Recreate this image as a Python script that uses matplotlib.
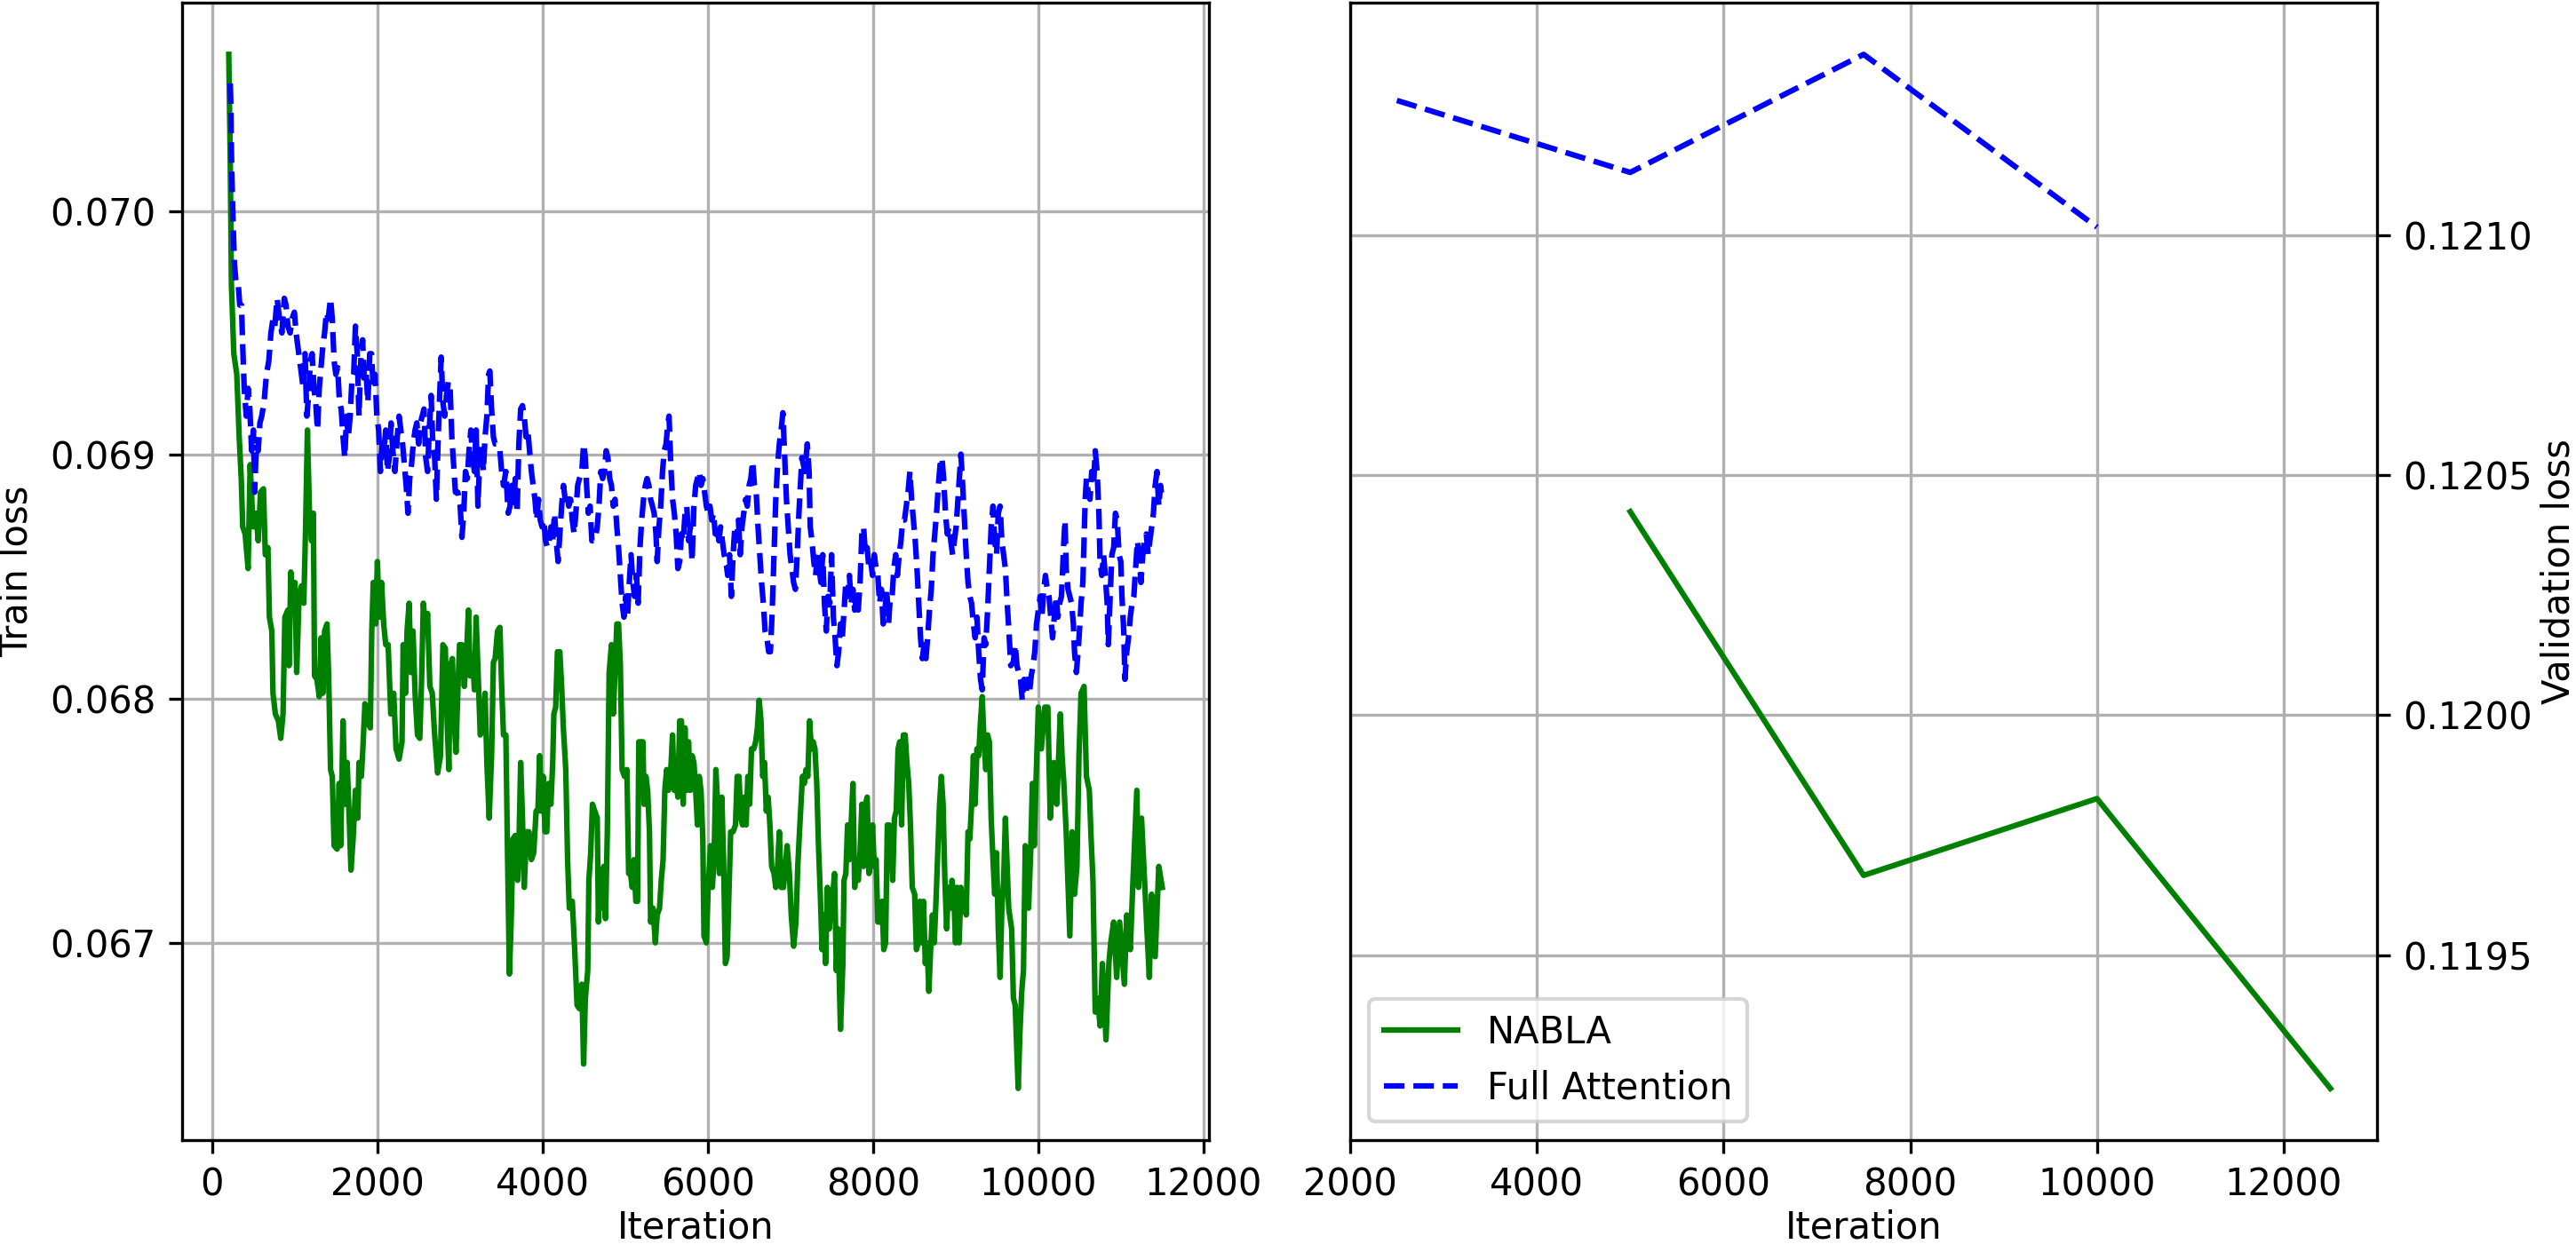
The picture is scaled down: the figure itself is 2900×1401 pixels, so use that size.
import matplotlib
matplotlib.use("Agg")
import matplotlib.pyplot as plt
from matplotlib.ticker import MultipleLocator

# train loss, NABLA
nabla_iter = [
    201, 219, 233, 262, 298, 327, 352, 370, 399, 435, 460, 496, 531, 557, 585, 621, 643, 675, 693, 722,
    736, 765, 801, 830, 858, 880, 916, 930, 952, 980, 1002, 1023, 1052, 1081, 1109, 1131, 1153, 1178, 1203, 1225,
    1239, 1268, 1296, 1318, 1339, 1361, 1390, 1411, 1433, 1454, 1476, 1512, 1537, 1555, 1584, 1609, 1634, 1656, 1680, 1706,
    1734, 1763, 1777, 1806, 1824, 1849, 1878, 1914, 1932, 1950, 1979, 2000, 2022, 2050, 2076, 2101, 2130,
    2162, 2197, 2226, 2262, 2298, 2312, 2341, 2359, 2384, 2406, 2431, 2456, 2485, 2513, 2535, 2556, 2585, 2607, 2635, 2664,
    2693, 2729, 2764, 2793, 2822, 2844, 2865, 2880, 2908, 2930, 2951, 2973, 2994, 3023, 3052, 3080, 3102, 3123, 3152, 3174,
    3195, 3224, 3245, 3274, 3303, 3325, 3353, 3382, 3404, 3425, 3454, 3483, 3504, 3526, 3555, 3576, 3598, 3619, 3641, 3669,
    3698, 3713, 3734, 3756, 3777, 3806, 3835, 3864, 3892, 3921, 3943, 3964, 3986, 4007, 4029, 4050, 4072, 4100, 4122, 4136,
    4158, 4179, 4208, 4230, 4251, 4280, 4302, 4323, 4359, 4388, 4417, 4445, 4474, 4496, 4517, 4546, 4560, 4582, 4603,
    4632, 4661, 4675, 4697, 4718, 4740, 4761, 4783, 4805, 4833, 4855, 4876, 4898, 4919, 4941, 4962, 4991, 5020, 5041, 5063,
    5085, 5106, 5128, 5149, 5164, 5192, 5214, 5228, 5250, 5271, 5293, 5307, 5336, 5364, 5386, 5415, 5436, 5458, 5479, 5501,
    5522, 5551, 5572, 5594, 5616, 5637, 5659, 5680, 5701, 5723, 5745, 5766, 5788, 5809, 5831, 5852, 5874, 5895, 5917, 5939,
    5953, 5982, 6004, 6032, 6054, 6075, 6097, 6118, 6140, 6169, 6190, 6212, 6233, 6255, 6276, 6305, 6334, 6355, 6377, 6398,
    6420, 6441, 6463, 6484, 6506, 6528, 6556, 6578, 6600, 6621, 6643, 6664, 6686, 6707, 6729, 6751, 6772, 6801, 6822, 6844,
    6865, 6887, 6915, 6937, 6959, 6987, 7009, 7038, 7066, 7088, 7109,
    7145, 7167, 7188, 7210, 7231, 7253, 7275, 7296, 7318, 7339, 7361, 7382, 7404, 7425, 7447, 7469, 7490, 7512, 7533, 7555,
    7576, 7605, 7634, 7648, 7670, 7691, 7713, 7734, 7756, 7777, 7799, 7820, 7842, 7864, 7885, 7907, 7928, 7950, 7971, 7993,
    8014, 8036, 8057, 8086, 8108, 8129, 8151, 8172, 8194, 8215, 8237, 8258, 8280, 8302, 8323, 8345, 8366, 8388, 8409, 8431,
    8452, 8474, 8503, 8524, 8546, 8567, 8589, 8610, 8632, 8653, 8675, 8696, 8718, 8740, 8761, 8783, 8804, 8826, 8847, 8869,
    8890, 8912, 8934, 8955, 8977, 8998, 9020, 9041, 9063, 9084, 9106, 9127, 9149, 9171, 9192, 9214, 9235, 9257, 9278, 9300,
    9321, 9343, 9364, 9386, 9407, 9429, 9451, 9472, 9494, 9515, 9537, 9558, 9580, 9601,
    9641, 9677, 9698, 9720, 9756, 9777, 9799, 9820, 9842, 9882, 9907, 9928, 9950, 9971, 10000, 10036, 10079, 10115, 10144, 10187,
    10223, 10266, 10287, 10309, 10337, 10381, 10409, 10438, 10467, 10492, 10517, 10553, 10582, 10617, 10639, 10661, 10689, 10718, 10747, 10775,
    10819, 10854, 10876, 10912, 10948, 10984, 11041, 11070, 11113, 11142, 11192, 11213, 11249, 11285, 11314, 11343, 11371, 11414, 11458, 11500,
]
nabla_train = [
    0.070642, 0.070210, 0.069699, 0.069415, 0.069330, 0.069074, 0.068903, 0.068705, 0.068676, 0.068534,
    0.068960, 0.068705, 0.068761, 0.068648, 0.068847, 0.068861, 0.068591, 0.068620, 0.068335, 0.068278,
    0.068023, 0.067938, 0.067910, 0.067838, 0.067938, 0.068335, 0.068364, 0.068136, 0.068520, 0.068364,
    0.068477, 0.068108, 0.068420, 0.068463, 0.068392, 0.068705, 0.069102, 0.068761, 0.068648, 0.068761,
    0.068094, 0.068080, 0.068009, 0.068250, 0.068023, 0.068278, 0.068307, 0.068080, 0.067710, 0.067682,
    0.067398, 0.067384, 0.067653, 0.067398, 0.067910, 0.067568, 0.067739, 0.067540, 0.067298, 0.067426,
    0.067625, 0.067511, 0.067739, 0.067682, 0.067795, 0.067980, 0.067910, 0.067881, 0.068278, 0.068477,
    0.068307, 0.068563, 0.068335, 0.068477, 0.068307, 0.068222, 0.068222,
    0.067938, 0.068023, 0.067795, 0.067753, 0.067824, 0.068222, 0.068023, 0.068278, 0.068392, 0.068108,
    0.068278, 0.068023, 0.067852, 0.067838, 0.068080, 0.068392, 0.068278, 0.068350, 0.068051, 0.068023,
    0.067852, 0.067696, 0.067767, 0.068222, 0.068207, 0.067910, 0.067710, 0.068136, 0.068165, 0.067910,
    0.067781, 0.068023, 0.068222, 0.068222, 0.068051, 0.068193, 0.068364, 0.068094, 0.068179, 0.068037,
    0.068335, 0.068051, 0.067852, 0.067881, 0.068023, 0.067739, 0.067511, 0.067767, 0.068150, 0.068165,
    0.068278, 0.068293, 0.068051, 0.067852, 0.067852, 0.067341, 0.066872, 0.067085, 0.067426, 0.067440,
    0.067256, 0.067398, 0.067739, 0.067511, 0.067227, 0.067455, 0.067455, 0.067341, 0.067369, 0.067540,
    0.067540, 0.067767, 0.067540, 0.067682, 0.067455, 0.067455, 0.067653, 0.067568, 0.067739, 0.067938,
    0.067966, 0.068193, 0.068193, 0.068051, 0.067881, 0.067710, 0.067341, 0.067142, 0.067170, 0.066972,
    0.066744, 0.066730, 0.066830, 0.066503, 0.066773, 0.066886, 0.067256, 0.067369, 0.067568,
    0.067540, 0.067511, 0.067085, 0.067284, 0.067142, 0.067313, 0.067099, 0.067455, 0.068108, 0.068222,
    0.067938, 0.068108, 0.068307, 0.068307, 0.068136, 0.067710, 0.067682, 0.067710, 0.067284, 0.067284,
    0.067227, 0.067341, 0.067170, 0.067170, 0.067824, 0.067824, 0.067824, 0.067568, 0.067682, 0.067625,
    0.067455, 0.067085, 0.067142, 0.067000, 0.067114, 0.067142, 0.067256, 0.067341, 0.067625, 0.067710,
    0.067625, 0.067710, 0.067852, 0.067625, 0.067653, 0.067597, 0.067910, 0.067910, 0.067568, 0.067881,
    0.067625, 0.067824, 0.067625, 0.067767, 0.067739, 0.067625, 0.067483, 0.067682, 0.067625, 0.067426,
    0.067028, 0.067000, 0.067227, 0.067398, 0.067227, 0.067341, 0.067710, 0.067568, 0.067284, 0.067597,
    0.067341, 0.066915, 0.066943, 0.067199, 0.067455, 0.067455, 0.067483, 0.067682, 0.067682, 0.067511,
    0.067483, 0.067597, 0.067483, 0.067682, 0.067568, 0.067795, 0.067795, 0.067824, 0.067881, 0.067994,
    0.067910, 0.067682, 0.067739, 0.067540, 0.067597, 0.067483, 0.067313, 0.067284, 0.067227, 0.067313,
    0.067455, 0.067227, 0.067227, 0.067313, 0.067398, 0.067284, 0.067114, 0.066986, 0.067085, 0.067313,
    0.067455,
    0.067682, 0.067653, 0.067710, 0.067682, 0.067910, 0.067795, 0.067824, 0.067795, 0.067653, 0.067398,
    0.067199, 0.066972, 0.067114, 0.066915, 0.067227, 0.067057, 0.067142, 0.067199, 0.067284, 0.066886,
    0.067057, 0.066645, 0.066915, 0.067256, 0.067284, 0.067483, 0.067341, 0.067483, 0.067653, 0.067227,
    0.067341, 0.067256, 0.067369, 0.067568, 0.067313, 0.067568, 0.067597, 0.067284, 0.067341, 0.067483,
    0.067313, 0.067341, 0.067085, 0.067085, 0.067170, 0.066972, 0.067000, 0.067483, 0.067483, 0.067426,
    0.067256, 0.067511, 0.067540, 0.067795, 0.067824, 0.067483, 0.067852, 0.067852, 0.067739, 0.067653,
    0.067483, 0.067227, 0.067199, 0.066972, 0.067000, 0.067170, 0.067000, 0.067170, 0.066915, 0.067000,
    0.066801, 0.066972, 0.067114, 0.067000, 0.067170, 0.067369, 0.067568, 0.067682, 0.067568, 0.067256,
    0.067057, 0.067227, 0.067142, 0.067256, 0.067199, 0.067000, 0.067227, 0.067000, 0.067227, 0.067142,
    0.067170, 0.067114, 0.067455, 0.067426, 0.067568, 0.067767, 0.067568, 0.067795, 0.067767, 0.067910,
    0.068009, 0.067824, 0.067710, 0.067852, 0.067824, 0.067511, 0.067341, 0.067199, 0.067369, 0.067057,
    0.066858, 0.067142, 0.067256, 0.067511,
    0.067142, 0.067057, 0.066773, 0.066744, 0.066403, 0.066631, 0.066801, 0.066886, 0.067398, 0.067142,
    0.067369, 0.067653, 0.067398, 0.067653, 0.067966, 0.067795, 0.067966, 0.067966, 0.067511, 0.067739,
    0.067568, 0.067938, 0.067767, 0.067653, 0.067455, 0.067028, 0.067455, 0.067199, 0.067313, 0.067767,
    0.068023, 0.068051, 0.067682, 0.067625, 0.067426, 0.067256, 0.066716, 0.066773, 0.066659, 0.066915,
    0.066602, 0.066915, 0.067000, 0.067085, 0.066858, 0.067085, 0.066830, 0.067114, 0.066972, 0.067227,
    0.067625, 0.067227, 0.067511, 0.067256, 0.067057, 0.066858, 0.067199, 0.066943, 0.067313, 0.067227,
]

# train loss, Full Attention
full_iter = [
    219, 226, 233, 248, 269, 291, 316, 334, 355, 370, 388, 413, 435, 456, 478, 499, 514, 535, 557, 578,
    600, 628, 657, 686, 711, 736, 758, 786, 815, 844, 873, 894, 916, 944, 966, 995, 1016, 1038, 1059, 1081,
    1102, 1124, 1146, 1167, 1189, 1210, 1232, 1253, 1275, 1296, 1318, 1339, 1361, 1383, 1404, 1433, 1454, 1476, 1497, 1519,
    1541, 1562, 1584, 1605, 1627, 1648, 1670, 1691, 1713, 1734, 1756, 1777, 1799, 1821, 1842, 1864, 1885, 1907, 1928, 1950,
    1971, 1993, 2015, 2036, 2058, 2079, 2101, 2122, 2144, 2165, 2187,
    2212, 2241, 2262, 2284, 2305, 2327, 2348, 2370, 2391, 2413, 2434, 2456, 2477, 2499, 2521, 2542, 2564, 2585, 2607, 2628,
    2650, 2671, 2693, 2714, 2736, 2757, 2772, 2793, 2815, 2836, 2858, 2880, 2901, 2923, 2944, 2973, 3002, 3023, 3045, 3066,
    3088, 3109, 3131, 3152, 3174, 3195, 3217, 3239, 3260, 3282, 3303, 3325, 3346, 3361, 3382, 3404, 3425, 3454, 3483, 3504,
    3526, 3555, 3583, 3605, 3626, 3648, 3669, 3691, 3712, 3734, 3756, 3777, 3799, 3820, 3842, 3864, 3885, 3907, 3928, 3950,
    3971, 3993, 4015, 4036, 4058, 4079, 4101, 4122, 4144, 4165, 4187, 4208, 4230, 4252, 4273, 4295, 4316, 4338, 4359, 4381,
    4402, 4424, 4446, 4474, 4496, 4517, 4532, 4553, 4574, 4596,
    4632, 4661, 4682, 4704, 4726, 4747, 4769, 4790, 4812, 4833, 4855, 4876, 4898, 4919, 4941, 4962, 4984, 5006, 5027, 5049,
    5070, 5092, 5113, 5135, 5156, 5178, 5199, 5221, 5243, 5264, 5286, 5307, 5329, 5350, 5372, 5386, 5408, 5429, 5451, 5472,
    5494, 5516, 5530, 5551, 5573, 5594, 5616, 5637, 5659, 5680, 5702, 5724, 5745, 5767, 5788, 5809, 5831, 5853, 5874, 5896,
    5917, 5939, 5960, 5982, 6004, 6025, 6047, 6068, 6090, 6111, 6133, 6154, 6176, 6197, 6219, 6240, 6262, 6284, 6305, 6327,
    6348, 6370, 6391, 6413, 6434, 6456, 6477, 6499, 6520, 6542, 6564, 6585, 6607, 6628, 6650, 6671, 6693, 6714, 6736, 6757,
    6779, 6801, 6822, 6844, 6865, 6887, 6908, 6930, 6951, 6973, 6995, 7016, 7038, 7059, 7081, 7102, 7124,
    7138, 7174, 7203, 7225, 7239, 7260, 7282, 7304, 7325, 7347, 7368, 7390, 7411, 7433, 7454, 7476, 7497, 7519, 7540, 7562,
    7583, 7605, 7627, 7648, 7670, 7691, 7713, 7734, 7756, 7777, 7799, 7820, 7842, 7864, 7885, 7907, 7928, 7950, 7971, 7993,
    8014, 8036, 8057, 8079, 8100, 8122, 8144, 8165, 8187, 8208, 8230, 8251, 8273, 8294, 8316, 8337, 8359, 8380, 8402, 8423,
    8445, 8466, 8488, 8510, 8531, 8553, 8574, 8596, 8617, 8639, 8660, 8682, 8704, 8725, 8747, 8768, 8790, 8811, 8833, 8854,
    8876, 8898, 8919, 8941, 8962, 8984, 9005, 9027, 9048, 9063, 9084, 9106, 9127, 9149, 9171, 9192, 9214, 9235, 9257, 9278,
    9300, 9321, 9343, 9364, 9386, 9407, 9429, 9451, 9472, 9494, 9515, 9537, 9558, 9580, 9601, 9623, 9644, 9666,
    9698, 9720, 9741, 9763, 9784, 9806, 9828, 9849, 9871, 9892, 9914, 9935, 9957, 9978, 10000, 10022, 10043, 10065, 10086, 10108,
    10129, 10151, 10172, 10194, 10215, 10237, 10258, 10280, 10294, 10309, 10323, 10337, 10359, 10381, 10402, 10424, 10438, 10460, 10481, 10503,
    10517, 10539, 10553, 10567, 10582, 10603, 10625, 10646, 10668, 10689, 10711, 10733, 10747, 10768, 10790, 10811, 10833, 10847, 10869, 10890,
    10912, 10933, 10955, 10977, 10998, 11012, 11034, 11048, 11070, 11091, 11113, 11134, 11156, 11178, 11199, 11220, 11242, 11264, 11285, 11307,
    11328, 11350, 11371, 11393, 11414, 11436, 11458, 11479, 11500,
]
full_train = [
    0.070523, 0.070438, 0.070239, 0.070011, 0.069784, 0.069699, 0.069699, 0.069614, 0.069614, 0.069443,
    0.069273, 0.069159, 0.069273, 0.069188, 0.069017, 0.069102, 0.068847, 0.069045, 0.069017, 0.069131,
    0.069159, 0.069216, 0.069330, 0.069386, 0.069500, 0.069557, 0.069528, 0.069642, 0.069557, 0.069500,
    0.069642, 0.069614, 0.069528, 0.069500, 0.069557, 0.069585, 0.069500, 0.069443, 0.069386, 0.069330,
    0.069273, 0.069415, 0.069159, 0.069244, 0.069386, 0.069415, 0.069273, 0.069216, 0.069102, 0.069273,
    0.069358, 0.069443, 0.069500, 0.069585, 0.069557, 0.069642, 0.069557, 0.069386, 0.069330, 0.069358,
    0.069216, 0.069188, 0.069074, 0.068989, 0.069159, 0.069074, 0.069159, 0.069301, 0.069330, 0.069528,
    0.069415, 0.069159, 0.069386, 0.069472, 0.069301, 0.069330, 0.069216, 0.069415, 0.069415, 0.069273,
    0.069330, 0.069159, 0.069102, 0.068932, 0.069045, 0.069017, 0.069102, 0.068932, 0.068989, 0.069131,
    0.069017,
    0.068932, 0.069074, 0.069159, 0.069102, 0.069045, 0.068960, 0.068875, 0.068761, 0.068903, 0.068960,
    0.069045, 0.069102, 0.069131, 0.069045, 0.069131, 0.069159, 0.069188, 0.068989, 0.068932, 0.069102,
    0.069244, 0.069045, 0.068989, 0.068818, 0.069074, 0.069273, 0.069401, 0.069216, 0.069159, 0.069244,
    0.069301, 0.069273, 0.069074, 0.068960, 0.068847, 0.068847, 0.068790, 0.068662, 0.068761, 0.068932,
    0.068903, 0.069017, 0.069102, 0.068989, 0.068932, 0.069102, 0.068790, 0.068989, 0.069045, 0.068932,
    0.069074, 0.069159, 0.069330, 0.069344, 0.069188, 0.069074, 0.069045, 0.069045, 0.069017, 0.068932,
    0.068875, 0.068932, 0.068761, 0.068790, 0.068875, 0.068790, 0.068903, 0.068761, 0.069045, 0.069188,
    0.069202, 0.069159, 0.069074, 0.069102, 0.069017, 0.068932, 0.068875, 0.068818, 0.068733, 0.068818,
    0.068733, 0.068705, 0.068733, 0.068648, 0.068620, 0.068648, 0.068705, 0.068648, 0.068761, 0.068648,
    0.068563, 0.068676, 0.068790, 0.068875, 0.068818, 0.068847, 0.068790, 0.068818, 0.068733, 0.068676,
    0.068761, 0.068875, 0.068903, 0.068932, 0.069045, 0.068989, 0.068875, 0.068761, 0.068790, 0.068648,
    0.068648, 0.068705, 0.068790, 0.068932, 0.068903, 0.068932, 0.069017, 0.068989, 0.068903, 0.068875,
    0.068790, 0.068818, 0.068705, 0.068620, 0.068506, 0.068392, 0.068335, 0.068420, 0.068335, 0.068477,
    0.068591, 0.068477, 0.068420, 0.068506, 0.068392, 0.068620, 0.068733, 0.068818, 0.068875, 0.068903,
    0.068875, 0.068818, 0.068790, 0.068761, 0.068676, 0.068563, 0.068705, 0.068790, 0.068932, 0.069017,
    0.069045, 0.069131, 0.069159, 0.068960, 0.068818, 0.068761, 0.068676, 0.068534, 0.068563, 0.068676,
    0.068648, 0.068761, 0.068790, 0.068648, 0.068705, 0.068563, 0.068790, 0.068875, 0.068903, 0.068932,
    0.068875, 0.068903, 0.068847, 0.068790, 0.068761, 0.068790, 0.068733, 0.068761, 0.068676, 0.068705,
    0.068648, 0.068705, 0.068648, 0.068591, 0.068563, 0.068506, 0.068591, 0.068420, 0.068591, 0.068705,
    0.068648, 0.068733, 0.068591, 0.068705, 0.068761, 0.068818, 0.068790, 0.068875, 0.068903, 0.068974,
    0.068875, 0.068847, 0.068705, 0.068591, 0.068477, 0.068392, 0.068278, 0.068250, 0.068193, 0.068193,
    0.068364, 0.068591, 0.068818, 0.068960, 0.069045, 0.069102, 0.069173, 0.068989, 0.068818, 0.068705,
    0.068591, 0.068534, 0.068477, 0.068449, 0.068591, 0.068761, 0.068903,
    0.068989, 0.068932, 0.069045, 0.068932, 0.068705, 0.068648, 0.068563, 0.068506, 0.068591, 0.068534,
    0.068477, 0.068591, 0.068392, 0.068278, 0.068420, 0.068392, 0.068591, 0.068335, 0.068250, 0.068136,
    0.068193, 0.068307, 0.068250, 0.068364, 0.068477, 0.068420, 0.068506, 0.068392, 0.068449, 0.068364,
    0.068420, 0.068364, 0.068477, 0.068676, 0.068705, 0.068591, 0.068620, 0.068534, 0.068563, 0.068506,
    0.068591, 0.068534, 0.068506, 0.068392, 0.068449, 0.068307, 0.068364, 0.068449, 0.068307, 0.068420,
    0.068420, 0.068534, 0.068591, 0.068506, 0.068591, 0.068648, 0.068733, 0.068733, 0.068790, 0.068847,
    0.068932, 0.068818, 0.068733, 0.068648, 0.068534, 0.068392, 0.068250, 0.068165, 0.068222, 0.068165,
    0.068250, 0.068364, 0.068449, 0.068591, 0.068676, 0.068761, 0.068875, 0.068960, 0.068989, 0.068903,
    0.068761, 0.068676, 0.068705, 0.068648, 0.068591, 0.068648, 0.068705, 0.068818, 0.068932, 0.069003,
    0.068875, 0.068733, 0.068591, 0.068477, 0.068420, 0.068392, 0.068307, 0.068250, 0.068335, 0.068193,
    0.068080, 0.068037, 0.068250, 0.068222, 0.068364, 0.068534, 0.068705, 0.068790, 0.068648, 0.068591,
    0.068761, 0.068790, 0.068648, 0.068591, 0.068534, 0.068392, 0.068278, 0.068136,
    0.068151, 0.068222, 0.068136, 0.068108, 0.068080, 0.067994, 0.068080, 0.068023, 0.068080, 0.068023,
    0.068094, 0.068136, 0.068193, 0.068307, 0.068364, 0.068420, 0.068335, 0.068449, 0.068506, 0.068449,
    0.068420, 0.068335, 0.068250, 0.068335, 0.068420, 0.068335, 0.068392, 0.068420, 0.068534, 0.068648,
    0.068733, 0.068534, 0.068449, 0.068420, 0.068392, 0.068307, 0.068193, 0.068108, 0.068193, 0.068307,
    0.068392, 0.068477, 0.068648, 0.068818, 0.068903, 0.068847, 0.068818, 0.068932, 0.068875, 0.069017,
    0.068932, 0.068761, 0.068563, 0.068506, 0.068591, 0.068506, 0.068392, 0.068222, 0.068420, 0.068591,
    0.068620, 0.068761, 0.068733, 0.068591, 0.068563, 0.068420, 0.068278, 0.068080, 0.068193, 0.068250,
    0.068335, 0.068392, 0.068420, 0.068534, 0.068648, 0.068591, 0.068477, 0.068591, 0.068648, 0.068676,
    0.068591, 0.068648, 0.068705, 0.068761, 0.068875, 0.068932, 0.068790, 0.068875, 0.068818,
]

# validation loss
val_iter_nabla = [5000, 7500, 10000, 12500]
val_nabla = [0.120424, 0.119666, 0.119826, 0.119222]
val_iter_full = [2500, 5000, 7500, 10000]
val_full = [0.121281, 0.121131, 0.121377, 0.121017]

W, H, DPI = 2900, 1401, 300
fig = plt.figure(figsize=(W / DPI, H / DPI), dpi=DPI)
ax1 = fig.add_axes([205 / W, 1 - 1284 / H, (1361 - 205) / W, (1284 - 3) / H])
ax2 = fig.add_axes([1520 / W, 1 - 1284 / H, (2676 - 1520) / W, (1284 - 3) / H])

ax1.plot(nabla_iter, nabla_train, color="green", lw=1.5, label="NABLA")
ax1.plot(full_iter, full_train, color="blue", ls="--", lw=1.5, label="Full Attention")
ax1.set_xlabel("Iteration", labelpad=1.5)
ax1.set_ylabel("Train loss")
ax1.xaxis.set_major_locator(MultipleLocator(2000))
ax1.yaxis.set_major_locator(MultipleLocator(0.001))
ax1.grid(True)

ax2.plot(val_iter_nabla, val_nabla, color="green", lw=1.5, label="NABLA")
ax2.plot(val_iter_full, val_full, color="blue", ls="--", lw=1.5, label="Full Attention")
ax2.set_xlabel("Iteration", labelpad=1.5)
ax2.set_ylabel("Validation loss", labelpad=2)
ax2.yaxis.tick_right()
ax2.yaxis.set_label_position("right")
ax2.xaxis.set_major_locator(MultipleLocator(2000))
ax2.yaxis.set_major_locator(MultipleLocator(0.0005))
ax2.grid(True)
ax2.legend(loc="lower left")

fig.savefig("out.png", dpi=DPI)
